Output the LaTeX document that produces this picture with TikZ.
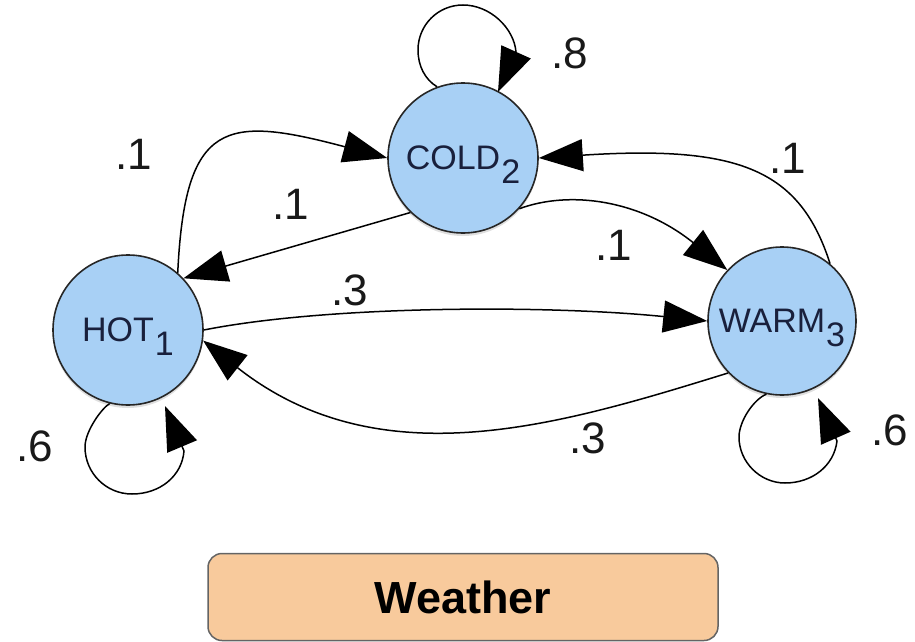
\documentclass[tikz,border=0pt]{standalone}
\usepackage{fontspec}
\setmainfont{Liberation Sans}
\usetikzlibrary{arrows.meta,shadows}
\definecolor{nodeblue}{RGB}{168,208,245}
\definecolor{boxorange}{RGB}{248,202,156}
\definecolor{txtnavy}{RGB}{25,32,60}
\definecolor{boxline}{RGB}{100,100,100}
\newcommand\subsc[1]{\kern1pt\smash{\raisebox{-14pt}{#1}}}
\begin{document}
\begin{tikzpicture}[x=1pt,y=-1pt,
  state/.style={circle, draw=black!85, line width=1.6pt, fill=nodeblue, inner sep=0pt,
    font=\fontsize{34}{34}\selectfont, text=txtnavy,
    drop shadow={opacity=0.25, shadow xshift=0pt, shadow yshift=-3pt}},
  arr/.style={line width=1.5pt, -{Triangle[length=44pt,width=32pt]}},
  prob/.style={font=\fontsize{44}{44}\selectfont, inner sep=0pt, text=black!90},
  titlebox/.style={draw=boxline, line width=1.5pt, fill=boxorange, rounded corners=14pt,
    minimum width=510pt, minimum height=87pt, font=\fontsize{45}{45}\selectfont\bfseries},
]
\useasboundingbox (0,0) rectangle (915,642);

% states
\node[state, minimum size=150pt] (HOT) at (128,330) {HOT\subsc{1}};
\node[state, minimum size=150pt] (COLD) at (463,158) {COLD\subsc{2}};
\node[state, minimum size=148pt] (WARM) at (782,321) {WARM\subsc{3}};

% loop arrow tips
\coordinate (tipC) at (498,92);
\coordinate (tipH) at (165,406);
\coordinate (tipW) at (818,398);

% self loops
\draw[arr] (COLD.110) .. controls (425,79.5) and (418,66) .. (418,50)
  .. controls (418,25) and (438,5) .. (463,5)
  .. controls (490,5) and (514,28) .. (516,52) -- (tipC);
\draw[arr] (HOT.256) .. controls (102,408) and (85,431) .. (85,447)
  .. controls (85,473) and (106,494) .. (132,494)
  .. controls (160,494) and (182,476) .. (184,451) -- (tipH);
\draw[arr] (WARM.258) .. controls (754,399) and (739,421) .. (739,437)
  .. controls (739,462) and (760,483) .. (785,483)
  .. controls (812,483) and (834,466) .. (837,441) -- (tipW);

% transitions
\draw[arr] (HOT.49) .. controls (185,120) and (225,115) .. (COLD.180);
\draw[arr] (COLD.226) -- (HOT.43);
\draw[arr] (HOT.0) .. controls (330,305) and (550,305) .. (WARM.180);
\draw[arr] (WARM.224) .. controls (560,425) and (380,480) .. (HOT.-8);
\draw[arr] (COLD.-42) .. controls (570,190) and (640,200) .. (WARM.137);
\draw[arr] (WARM.50) .. controls (800,170) and (740,145) .. (COLD.0);

% probabilities
\node[prob] (p8)  at (570,53)  {.8};
\node[prob] (pHC) at (134,154) {.1};
\node[prob] (pCH) at (291,204) {.1};
\node[prob] (pCW) at (614,245) {.1};
\node[prob] (pWC) at (788,158) {.1};
\node[prob] (pHW) at (350,290) {.3};
\node[prob] (pWH) at (588,438) {.3};
\node[prob] (pHH) at (35,446)  {.6};
\node[prob] (pWW) at (890,430) {.6};

% title
\node[titlebox] (title) at (463,597) {Weather};
\end{tikzpicture}
\end{document}
